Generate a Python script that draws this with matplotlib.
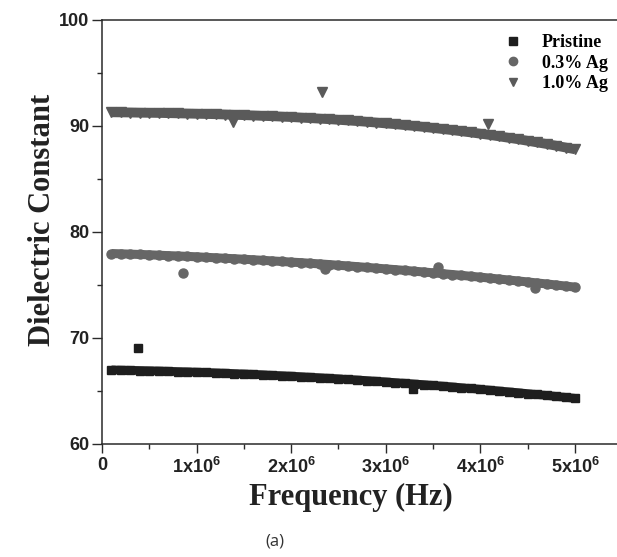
import matplotlib
matplotlib.use("Agg")
import matplotlib.pyplot as plt
import numpy as np

# frequency sweep (MHz) and dielectric constant
freq_mhz = [0.1, 0.2, 0.3, 0.4, 0.5, 0.6, 0.7, 0.8, 0.9, 1.0,
            1.1, 1.2, 1.3, 1.4, 1.5, 1.6, 1.7, 1.8, 1.9, 2.0,
            2.1, 2.2, 2.3, 2.4, 2.5, 2.6, 2.7, 2.8, 2.9, 3.0,
            3.1, 3.2, 3.3, 3.4, 3.5, 3.6, 3.7, 3.8, 3.9, 4.0,
            4.1, 4.2, 4.3, 4.4, 4.5, 4.6, 4.7, 4.8, 4.9, 5.0]

pristine = [66.99, 66.97, 66.95, 66.93, 66.91, 66.89, 66.86, 66.83, 66.81, 66.78,
            66.75, 66.71, 66.68, 66.64, 66.61, 66.57, 66.53, 66.48, 66.44, 66.40,
            66.35, 66.30, 66.25, 66.20, 66.15, 66.09, 66.04, 65.98, 65.92, 65.86,
            65.79, 65.73, 65.66, 65.60, 65.53, 65.46, 65.39, 65.31, 65.24, 65.16,
            65.08, 65.00, 64.92, 64.84, 64.75, 64.67, 64.58, 64.49, 64.40, 64.31]

ag03 = [77.97, 77.94, 77.91, 77.88, 77.85, 77.81, 77.77, 77.74, 77.70, 77.66,
        77.61, 77.57, 77.52, 77.48, 77.43, 77.38, 77.33, 77.27, 77.22, 77.16,
        77.11, 77.05, 76.99, 76.93, 76.86, 76.80, 76.73, 76.66, 76.59, 76.52,
        76.45, 76.38, 76.30, 76.23, 76.15, 76.07, 75.99, 75.91, 75.82, 75.74,
        75.65, 75.56, 75.47, 75.38, 75.29, 75.19, 75.10, 75.00, 74.90, 74.80]

ag10 = [91.29, 91.28, 91.27, 91.25, 91.24, 91.23, 91.21, 91.19, 91.17, 91.15,
        91.13, 91.11, 91.08, 91.05, 91.02, 90.99, 90.95, 90.92, 90.88, 90.84,
        90.79, 90.74, 90.69, 90.64, 90.58, 90.52, 90.46, 90.39, 90.32, 90.24,
        90.17, 90.08, 90.00, 89.91, 89.81, 89.71, 89.61, 89.50, 89.39, 89.27,
        89.15, 89.02, 88.88, 88.75, 88.60, 88.45, 88.30, 88.14, 87.97, 87.80]

# scattered points lying off the main band
pristine_out_f = [0.38, 3.29]
pristine_out_v = [69.1, 65.2]
ag03_out_f = [0.86, 2.36, 3.55, 4.58]
ag03_out_v = [76.1, 76.5, 76.7, 74.7]
ag10_out_f = [1.38, 2.33, 4.08]
ag10_out_v = [90.4, 93.2, 90.2]

labels = ["Pristine", "0.3% Ag", "1.0% Ag"]
xtick_labels = ["0", "1x10$^{6}$", "2x10$^{6}$", "3x10$^{6}$", "4x10$^{6}$", "5x10$^{6}$"]

plt.rcParams["mathtext.fontset"] = "custom"
plt.rcParams["mathtext.rm"] = "Liberation Sans:bold"
plt.rcParams["mathtext.default"] = "rm"

W, H = 617, 557
fig = plt.figure(figsize=(W / 100, H / 100), dpi=100)
ax = fig.add_axes([102 / W, 113 / H, 515 / W, 424 / H])

f = np.array(freq_mhz) * 1e6
series = [
    (pristine, pristine_out_f, pristine_out_v, "s", 6.0, "#1e1e1e", 6.3),
    (ag03, ag03_out_f, ag03_out_v, "o", 6.5, "#666666", 6.5),
    (ag10, ag10_out_f, ag10_out_v, "v", 7.5, "#5a5a5a", 7.0),
]
for (vals, of, ov, mk, ms, col, lw), lab in zip(series, labels):
    ax.plot(f, vals, color=col, lw=lw, solid_capstyle="butt",
            marker=mk, ms=ms, mec=col, mfc=col, label=lab)
    ax.plot(np.array(of) * 1e6, ov, ls="none", marker=mk, ms=ms,
            mec=col, mfc=col)

ax.set_xlim(0, 5.444e6)
ax.set_ylim(60, 100)
ax.set_xticks([i * 1e6 for i in range(6)])
ax.set_xticklabels(xtick_labels)
ax.set_xticks([0.5e6 + i * 1e6 for i in range(5)], minor=True)
ax.set_yticks([60, 70, 80, 90, 100])
ax.set_yticks([65, 75, 85, 95], minor=True)

for s in ["left", "bottom", "top"]:
    ax.spines[s].set_linewidth(1.1)
    ax.spines[s].set_color("#2a2a2a")
ax.spines["right"].set_visible(False)
ax.tick_params(which="major", direction="out", length=6.5, width=1.0,
               color="#2a2a2a", pad=3)
ax.tick_params(which="minor", direction="out", length=3.5, width=1.0,
               color="#2a2a2a")
ax.tick_params(axis="y", which="major", length=7, pad=2)
for t in ax.get_xticklabels() + ax.get_yticklabels():
    t.set_fontfamily("Liberation Sans")
    t.set_fontweight("bold")
    t.set_fontsize(13)
    t.set_color("#222222")

leg = ax.legend(loc="upper left", bbox_to_anchor=(504 / W, 1 - 34 / H),
                bbox_transform=fig.transFigure, frameon=False, numpoints=1,
                handlelength=1.0, handletextpad=1.1, labelspacing=0.2,
                borderpad=0, borderaxespad=0,
                prop={"family": "Liberation Serif", "weight": "bold", "size": 13})
for h in leg.legend_handles:
    h.set_linestyle("none")
    h.set_markersize(6)

fig.text(43 / W, 1 - 220 / H, "Dielectric Constant", rotation=90,
         ha="center", va="center", family="Liberation Serif",
         weight="bold", fontsize=22, color="#222222")
fig.text(351 / W, 1 - 497 / H, "Frequency (Hz)", ha="center", va="center",
         family="Liberation Serif", weight="bold", fontsize=22, color="#222222")
fig.text(275 / W, 1 - 541 / H, "(a)", ha="center", va="center",
         family="Open Sans", fontsize=12, color="#333333")

fig.savefig("out.png", dpi=100)
